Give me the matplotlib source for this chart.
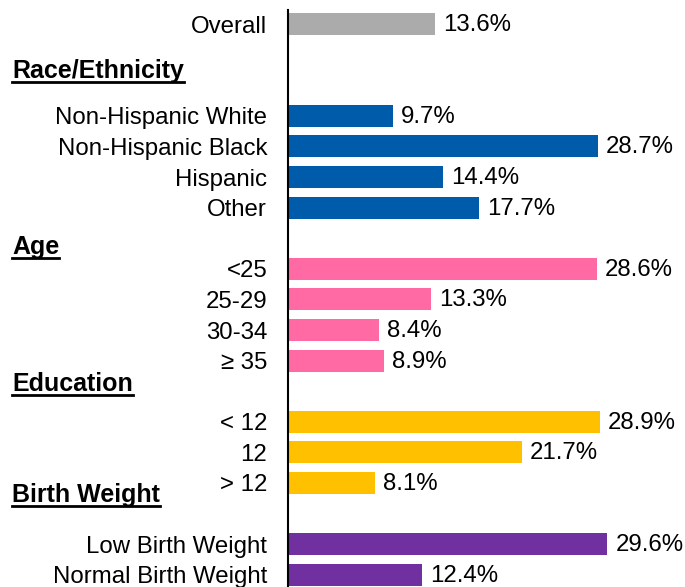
import matplotlib
matplotlib.use("Agg")
import matplotlib.pyplot as plt
from matplotlib.transforms import blended_transform_factory

plt.rcParams['font.family'] = ['Liberation Sans', 'DejaVu Sans']

# rows (top to bottom), blank rows leave room for the group headers
labels = ["Overall", "", "", "Non-Hispanic White", "Non-Hispanic Black", "Hispanic", "Other",
          "", "<25", "25-29", "30-34", "≥ 35",
          "", "< 12", "12", "> 12",
          "", "Low Birth Weight", "Normal Birth Weight"]
values = [13.6, None, None, 9.7, 28.7, 14.4, 17.7,
          None, 28.6, 13.3, 8.4, 8.9,
          None, 28.9, 21.7, 8.1,
          None, 29.6, 12.4]
groups = ["overall", None, None, "race", "race", "race", "race",
          None, "age", "age", "age", "age",
          None, "edu", "edu", "edu",
          None, "bw", "bw"]
colors = {"overall": "#ABABAB", "race": "#005BAA", "age": "#FF69A4",
          "edu": "#FFC000", "bw": "#7030A0"}

headers = ["Race/Ethnicity", "Age", "Education", "Birth Weight"]
header_rows = [1.54, 7.29, 11.76, 15.39]

fig = plt.figure(figsize=(6.85, 5.87), dpi=100)
ax = fig.add_axes([288 / 685, 0, 1 - 288 / 685, 1 - 10 / 587])

for i, (v, g) in enumerate(zip(values, groups)):
    if v is None:
        continue
    ax.barh(i, v, height=0.72, color=colors[g])
    ax.text(v + 0.75, i + 0.03, f"{v}%", va="center", ha="left", fontsize=17.3)

ax.set_xlim(0, 36.8)
ax.set_ylim(18.4, -0.46)
ax.set_yticks(range(len(labels)))
ax.set_yticklabels(labels, fontsize=17.3)
ax.tick_params(axis="y", length=0, pad=15)
ax.set_xticks([])
for s in ["top", "right", "bottom"]:
    ax.spines[s].set_visible(False)
ax.spines["left"].set_linewidth(1.5)

trans = blended_transform_factory(fig.transFigure, ax.transData)
htexts = []
for h, r in zip(headers, header_rows):
    t = fig.text(12 / 685, 0, h, transform=trans, fontsize=18, fontweight="bold",
                 ha="left", va="center")
    t.set_y(r)
    htexts.append(t)

fig.canvas.draw()
renderer = fig.canvas.get_renderer()
inv = fig.transFigure.inverted()
for t in htexts:
    bb = t.get_window_extent(renderer)
    (x0, y0), (x1, y1) = inv.transform([[bb.x0, bb.y0], [bb.x1, bb.y1]])
    fig.add_artist(plt.Line2D([x0, x1], [y0 + 0.002, y0 + 0.002], color="black",
                              lw=2, transform=fig.transFigure))

fig.savefig("out.png", dpi=100)
